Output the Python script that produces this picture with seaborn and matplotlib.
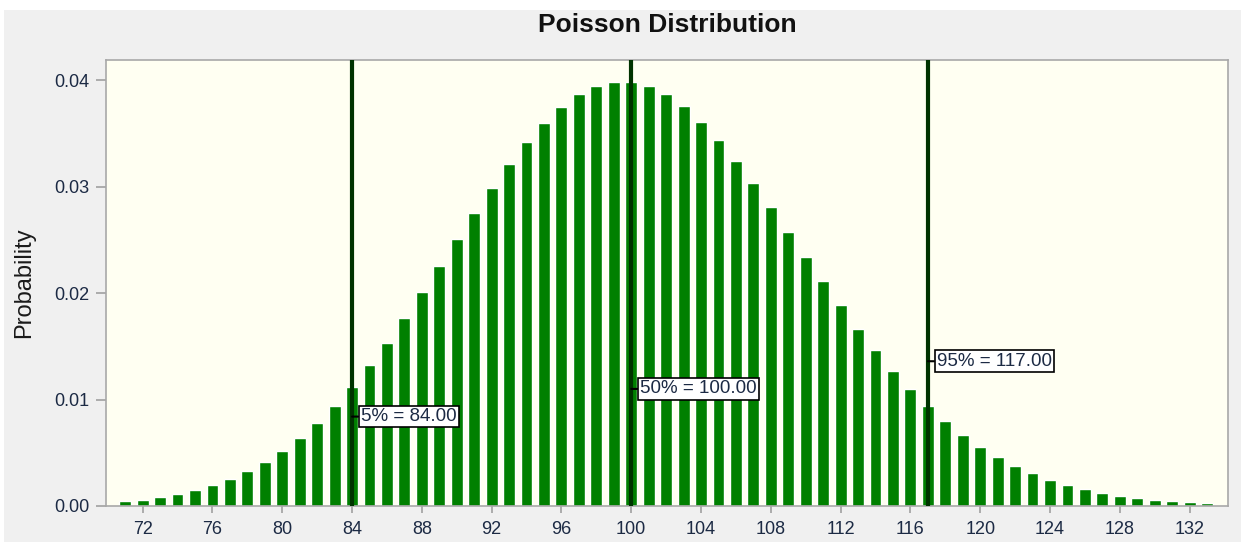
import numpy as np
import pandas as pd
import matplotlib
matplotlib.use("Agg")
import matplotlib.pyplot as plt
from matplotlib.patches import Rectangle
import seaborn as sns

# Poisson probabilities (k = 71 .. 133)
counts = list(range(71, 134))
probs = [
    0.00044, 0.00061, 0.00083, 0.00113, 0.00150, 0.00197, 0.00256, 0.00329,
    0.00416, 0.00520, 0.00642, 0.00783, 0.00943, 0.01122, 0.01321, 0.01536,
    0.01765, 0.02006, 0.02254, 0.02504, 0.02752, 0.02991, 0.03216, 0.03421,
    0.03601, 0.03751, 0.03867, 0.03946, 0.03986, 0.03986, 0.03947, 0.03869,
    0.03757, 0.03612, 0.03440, 0.03245, 0.03033, 0.02808, 0.02577, 0.02342,
    0.02110, 0.01884, 0.01667, 0.01463, 0.01272, 0.01096, 0.00937, 0.00794,
    0.00667, 0.00556, 0.00460, 0.00377, 0.00306, 0.00247, 0.00198, 0.00157,
    0.00124, 0.00097, 0.00075, 0.00058, 0.00044, 0.00033, 0.00025,
]

# percentile markers
pct_labels = ["5%", "50%", "95%"]
pct_values = [84, 100, 117]
label_y = [0.0084, 0.0110, 0.0136]

x_ticks = list(range(72, 133, 4))
y_ticks = [0.00, 0.01, 0.02, 0.03, 0.04]


def main():
    df = pd.DataFrame({"k": counts, "p": probs})

    sns.set_style("ticks")
    plt.rcParams["font.family"] = ["Liberation Sans", "DejaVu Sans"]

    fig = plt.figure(figsize=(12.41, 5.42), dpi=100, facecolor="white")
    # grey panel behind the chart (white strip on top and left)
    fig.patches.append(Rectangle((4 / 1241, 0), 1, 1 - 10 / 542,
                                 transform=fig.transFigure,
                                 facecolor="#f0f0f0", edgecolor="none", zorder=-10))

    ax = fig.add_axes([106 / 1241, 36 / 542, 1122 / 1241, 446 / 542])
    ax.set_facecolor("#fffff2")

    sns.barplot(data=df, x="k", y="p", native_scale=True, width=0.68,
                color="#008000", saturation=1, ax=ax, zorder=2)

    for lab, val, ly in zip(pct_labels, pct_values, label_y):
        ax.axvline(val, color="#003300", lw=3, zorder=3)
        ax.annotate(f"{lab} = {val:.2f}", xy=(val, ly), xytext=(9, 0),
                    textcoords="offset pixels", ha="left", va="center",
                    fontsize=13.5, color="#1c2a44", zorder=5,
                    arrowprops=dict(arrowstyle="-", color="black", lw=1.5,
                                    shrinkA=0, shrinkB=0),
                    bbox=dict(boxstyle="square,pad=0.12", fc="white",
                              ec="black", lw=1.2))

    ax.set_xlim(69.9, 134.2)
    ax.set_ylim(0, 0.0419)
    ax.set_xticks(x_ticks)
    ax.set_yticks(y_ticks)
    ax.set_yticklabels([f"{v:.2f}" for v in y_ticks])
    ax.tick_params(colors="#a0a0a0", labelcolor="#1c2a44", labelsize=13,
                   width=1.2)
    ax.tick_params(axis="y", length=7, pad=5)
    ax.tick_params(axis="x", length=5, pad=6)

    for s in ax.spines.values():
        s.set_visible(True)
        s.set_color("#a8a8a8")
        s.set_linewidth(1.2)

    ax.set_xlabel("")
    ax.set_ylabel("Probability", fontsize=17, color="#1a1a1a")
    ax.yaxis.set_label_coords(-0.063, 0.5)

    fig.text(667 / 1241, 1 - 25 / 542, "Poisson Distribution", ha="center",
             va="center", fontsize=19, fontweight="bold", color="#111111")

    fig.savefig("out.png", dpi=100, facecolor=fig.get_facecolor())


if __name__ == "__main__":
    main()
